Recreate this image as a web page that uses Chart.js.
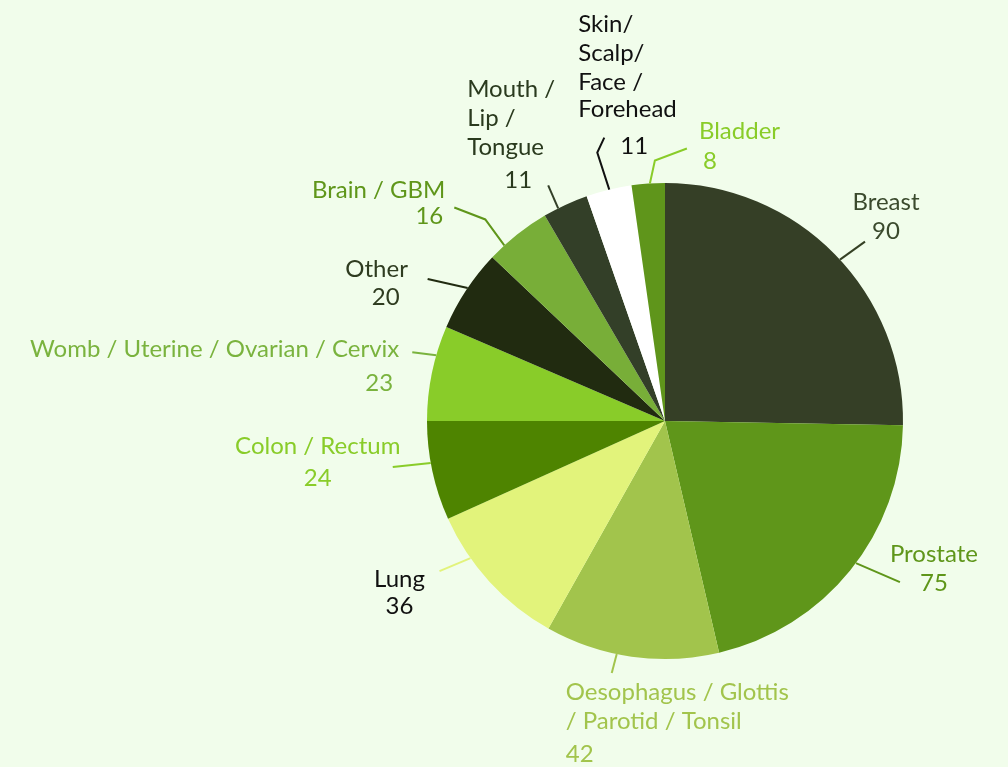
<!DOCTYPE html>
<html>
<head>
<meta charset="utf-8">
<title>Cancer types</title>
<script src="https://cdn.jsdelivr.net/npm/chart.js@4.4.1/dist/chart.umd.min.js"></script>
<style>
    html, body {
        margin: 0;
        padding: 0;
        background: #f1fdeb;
    }
    #wrap {
        width: 1008px;
        height: 767px;
    }
</style>
</head>
<body>
<div id="wrap"><canvas id="pieChart" width="1008" height="767"></canvas></div>
<script>
// Chart data
const categories = [
    'Breast', 'Prostate', 'Oesophagus / Glottis / Parotid / Tonsil', 'Lung',
    'Colon / Rectum', 'Womb / Uterine / Ovarian / Cervix', 'Other',
    'Brain / GBM', 'Mouth / Lip / Tongue', 'Skin/ Scalp/ Face / Forehead', 'Bladder'
];
const cases = [90, 75, 42, 36, 24, 23, 20, 16, 11, 11, 8];

// Slice colours
const sliceColors = [
    '#353f26', '#5f961a', '#a2c44c', '#e2f37b', '#4e8400', '#89cc29',
    '#212b10', '#78ae38', '#333f28', '#ffffff', '#5f951b'
];

// Label colours (text + leader line)
const labelColors = [
    '#3b4a2d', '#5f961a', '#a2c44c', '#111111', '#89cc29', '#7ab33e',
    '#2f3c20', '#5f961a', '#2a3a1e', '#111111', '#89cc29'
];
const leaderColors = [
    '#354024', '#5f961a', '#a2c44c', '#e2f37b', '#89cc29', '#7ab33e',
    '#212b10', '#5f961a', '#333f28', '#111111', '#89cc29'
];

/**
 * Label layout, relative to the point where the leader leaves the slice.
 * at   - where on the slice arc the leader starts (0..1 of the slice)
 * line - leader polyline points (dx, dy)
 * text - [text, dx, dy, align]
 */
const labelLayout = [
    { at: 0.52, line: [[25, -18]],
      text: [['Breast', 46, -57, 'center'], ['90', 46, -28, 'center']] },
    { at: 0.47, line: [[44, 19]],
      text: [['Prostate', 78, -9, 'center'], ['75', 78, 20, 'center']] },
    { at: 0.585, line: [[-5, 19]],
      text: [['Oesophagus / Glottis', -51, 38, 'left'], ['/ Parotid / Tonsil', -51, 67, 'left'], ['42', -51, 100, 'left']] },
    { at: 0.7, line: [[-31, 13]],
      text: [['Lung', -71, 21, 'center'], ['36', -71, 48, 'center']] },
    { at: 0.58, line: [[-38, 4]],
      text: [['Colon / Rectum', -113, -17, 'center'], ['24', -113, 15, 'center']] },
    { at: 0.69, line: [[-24, -3]],
      text: [['Womb / Uterine / Ovarian / Cervix', -37, -6, 'right'], ['23', -57, 28, 'center']] },
    { at: 0.53, line: [[-40, -9]],
      text: [['Other', -91, -19, 'center'], ['20', -82, 9, 'center']] },
    { at: 0.25, line: [[-19, -26], [-50, -38]],
      text: [['Brain / GBM', -59, -55, 'right'], ['16', -75, -29, 'center']] },
    { at: 0.33, line: [[-10, -23]],
      text: [['Mouth /', -91, -119, 'left'], ['Lip /', -91, -90, 'left'], ['Tongue', -91, -61, 'left'], ['11', -40, -28, 'center']] },
    { at: 0.51, line: [[-12, -37], [-5, -52]],
      text: [['Skin/', -31, -165, 'left'], ['Scalp/', -31, -136, 'left'], ['Face /', -31, -107, 'left'], ['Forehead', -31, -80, 'left'], ['11', 25, -43, 'center']] },
    { at: 0.55, line: [[5, -23], [37, -35]],
      text: [['Bladder', 49, -52, 'left'], ['8', 60, -22, 'center']] }
];

// Draws leader lines and outside labels for each slice
const outsideLabels = {
    id: 'outsideLabels',
    afterDatasetsDraw(chart) {
        const ctx = chart.ctx;
        const arcs = chart.getDatasetMeta(0).data;

        ctx.save();
        ctx.font = '24px Lato, "Open Sans", sans-serif';
        ctx.textBaseline = 'middle';
        ctx.lineWidth = 2;

        arcs.forEach((arc, i) => {
            const cfg = labelLayout[i];
            const p = arc.getProps(['x', 'y', 'startAngle', 'endAngle', 'outerRadius'], true);
            const angle = p.startAngle + (p.endAngle - p.startAngle) * cfg.at;
            const sx = p.x + Math.cos(angle) * p.outerRadius;
            const sy = p.y + Math.sin(angle) * p.outerRadius;

            ctx.strokeStyle = leaderColors[i];
            ctx.beginPath();
            ctx.moveTo(sx, sy);
            cfg.line.forEach(pt => ctx.lineTo(sx + pt[0], sy + pt[1]));
            ctx.stroke();

            ctx.fillStyle = labelColors[i];
            cfg.text.forEach(t => {
                ctx.textAlign = t[3];
                ctx.fillText(t[0], sx + t[1], sy + t[2]);
            });
        });

        ctx.restore();
    }
};

new Chart(document.getElementById('pieChart'), {
    type: 'pie',
    data: {
        labels: categories,
        datasets: [{
            data: cases,
            backgroundColor: sliceColors,
            borderWidth: 0
        }]
    },
    options: {
        responsive: false,
        animation: false,
        layout: {
            padding: { left: 427, right: 105, top: 183, bottom: 108 }
        },
        plugins: {
            legend: { display: false },
            tooltip: { enabled: false }
        }
    },
    plugins: [outsideLabels]
});
</script>
</body>
</html>
